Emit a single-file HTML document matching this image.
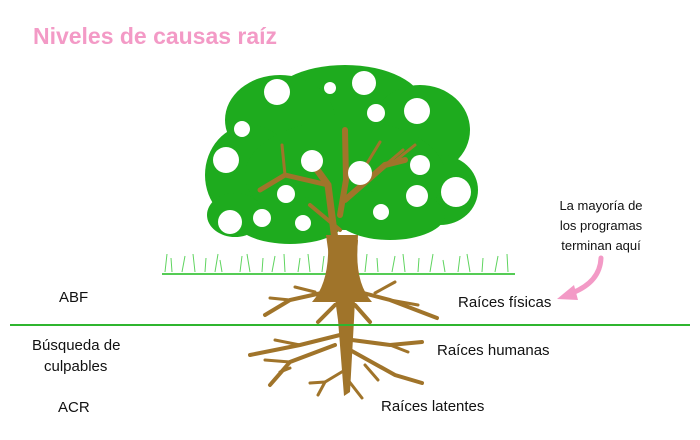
<!DOCTYPE html>
<html><head><meta charset="utf-8"><style>
html,body{margin:0;padding:0;background:#fff;width:700px;height:440px;overflow:hidden}
svg{display:block}
text{font-family:"Liberation Sans",sans-serif}
</style></head><body>
<svg width="700" height="440" viewBox="0 0 700 440">
<text x="33" y="44" font-size="23" font-weight="bold" fill="#f39ac6" textLength="244">Niveles de causas raíz</text>
<!-- grass -->
<g stroke="#5fd45f" stroke-width="1" fill="none">
<line x1="162" y1="274" x2="515" y2="274" stroke="#55cc55" stroke-width="2"/>
<path d="M165 272l2-18M172 272l-1-14M182 272l3-16M195 272l-2-18M205 272l1-14M215 272l3-18M222 272l-2-12M240 272l2-16M250 272l-3-18M262 272l1-14M272 272l3-16M285 272l-1-18M298 272l2-14M310 272l-2-18M322 272l2-16M365 272l2-18M378 272l-1-14M392 272l3-16M405 272l-2-18M418 272l1-14M430 272l3-18M445 272l-2-12M458 272l2-16M470 272l-3-18M482 272l1-14M495 272l3-16M508 272l-1-18"/>
</g>
<!-- canopy -->
<g fill="#1eab1e">
<ellipse cx="345" cy="105" rx="78" ry="40"/>
<ellipse cx="280" cy="120" rx="55" ry="45"/>
<ellipse cx="420" cy="130" rx="50" ry="45"/>
<ellipse cx="250" cy="175" rx="45" ry="50"/>
<ellipse cx="440" cy="190" rx="38" ry="35"/>
<ellipse cx="345" cy="175" rx="100" ry="55"/>
<ellipse cx="290" cy="220" rx="55" ry="24"/>
<ellipse cx="390" cy="215" rx="55" ry="25"/>
<ellipse cx="235" cy="215" rx="28" ry="22"/>
</g>
<!-- branches -->
<g stroke="#a0742a" stroke-linecap="round" fill="none">
<path d="M335 240 L328 185 L310 160" stroke-width="7"/>
<path d="M328 185 L285 175 L260 190" stroke-width="5"/>
<path d="M285 175 L282 145" stroke-width="3"/>
<path d="M340 215 L346 180 L345 130" stroke-width="6"/>
<path d="M345 200 L385 165 L405 160" stroke-width="6"/>
<path d="M383 167 L403 150" stroke-width="3"/>
<path d="M390 165 L415 145" stroke-width="3"/>
<path d="M340 230 L310 205" stroke-width="4"/>
<path d="M360 175 L380 142" stroke-width="3"/>
</g>
<path d="M326 235 L358 235 L354 320 L350 392 L344 396 L338 320 Z" fill="#a0742a"/>
<path d="M328 240 Q330 282 312 302 L372 302 Q354 282 358 240 Z" fill="#a0742a"/>
<!-- roots -->
<g stroke="#a0742a" stroke-linecap="round" fill="none" stroke-width="4">
<path d="M335 290 L290 300 L265 315"/><path d="M290 300 L270 298" stroke-width="3"/><path d="M315 292 L295 287" stroke-width="3"/>
<path d="M352 290 L390 300 L437 318"/><path d="M390 300 L418 305" stroke-width="3"/><path d="M375 293 L395 282" stroke-width="3"/>
<path d="M335 305 L318 322"/><path d="M355 305 L370 322"/>
<path d="M340 335 L300 345 L250 355"/><path d="M300 345 L275 340" stroke-width="3"/>
<path d="M335 345 L290 362 L270 385"/><path d="M290 362 L265 360" stroke-width="3"/><path d="M280 372 L290 368" stroke-width="3"/>
<path d="M352 340 L390 345 L422 342"/><path d="M390 345 L408 352" stroke-width="3"/>
<path d="M350 350 L395 375 L422 383"/><path d="M365 365 L378 380" stroke-width="3"/>
<path d="M345 370 L325 382 L310 383" stroke-width="3"/><path d="M325 382 L318 395" stroke-width="3"/>
<path d="M348 380 L362 398" stroke-width="3"/>
</g>
<line x1="10" y1="325" x2="690" y2="325" stroke="#2fb52f" stroke-width="2"/>
<!-- labels -->
<g font-size="15" fill="#111">
<text x="59" y="302">ABF</text>
<text x="32" y="350">Búsqueda de</text>
<text x="44" y="371">culpables</text>
<text x="58" y="412">ACR</text>
<text x="458" y="307">Raíces físicas</text>
<text x="437" y="355">Raíces humanas</text>
<text x="381" y="411">Raíces latentes</text>
</g>
<g font-size="13" fill="#111" text-anchor="middle">
<text x="601" y="210">La mayoría de</text>
<text x="601" y="230">los programas</text>
<text x="601" y="250">terminan aquí</text>
</g>
<path d="M601 258 Q600 282 572 293" stroke="#f39ac6" stroke-width="5" fill="none" stroke-linecap="round"/>
<path d="M557 299 L574 285 L578 300 Z" fill="#f39ac6"/>
<!-- fruit holes -->
<g fill="#fff">
<circle cx="277" cy="92" r="13"/><circle cx="330" cy="88" r="6"/><circle cx="364" cy="83" r="12"/>
<circle cx="376" cy="113" r="9"/><circle cx="417" cy="111" r="13"/><circle cx="242" cy="129" r="8"/>
<circle cx="226" cy="160" r="13"/><circle cx="312" cy="161" r="11"/><circle cx="360" cy="173" r="12"/>
<circle cx="420" cy="165" r="10"/><circle cx="456" cy="192" r="15"/><circle cx="286" cy="194" r="9"/>
<circle cx="417" cy="196" r="11"/><circle cx="262" cy="218" r="9"/><circle cx="230" cy="222" r="12"/>
<circle cx="303" cy="223" r="8"/><circle cx="381" cy="212" r="8"/>
</g>
</svg>
</body></html>
